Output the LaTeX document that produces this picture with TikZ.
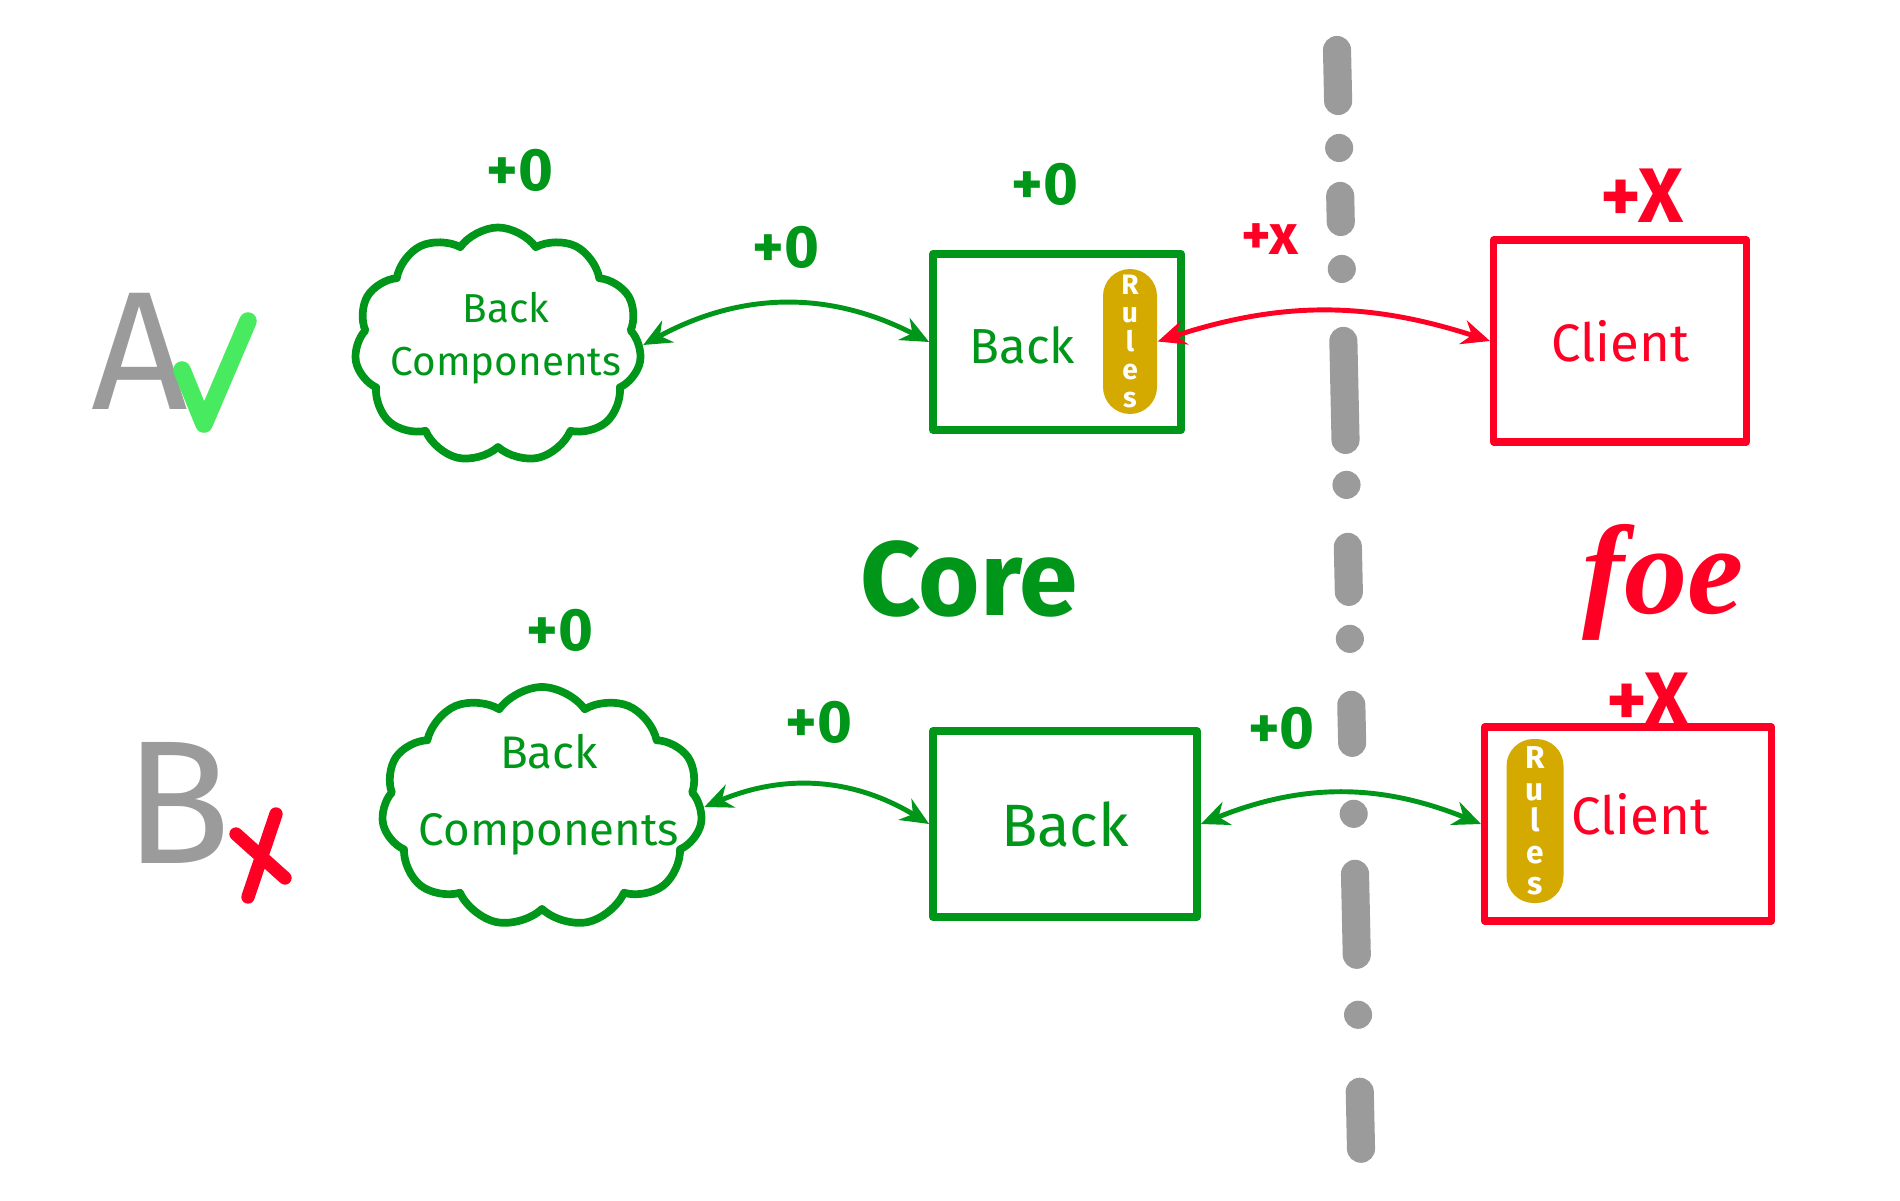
\documentclass[tikz,border=0pt]{standalone}
\usepackage{fontspec}
\setmainfont{Fira Sans}
\newfontfamily\foefont{Liberation Serif}
\usetikzlibrary{shapes.symbols,arrows.meta}

\definecolor{penGreen}{RGB}{0,150,25}
\definecolor{penLime}{RGB}{72,235,96}
\definecolor{penRed}{RGB}{255,0,36}
\definecolor{penGray}{RGB}{155,155,155}
\definecolor{penGold}{RGB}{212,169,0}

\begin{document}
\begin{tikzpicture}[
    greenline/.style={draw=penGreen, line width=2.2pt, line cap=round, line join=round},
    redline/.style={draw=penRed, line width=2pt, line cap=round, line join=round},
    backcloud/.style={cloud, cloud puffs=11, cloud puff arc=110, cloud ignores aspect, greenline, inner sep=0pt},
    cloudtext/.style={text=penGreen, align=center},
    greenbox/.style={rectangle, greenline, text=penGreen},
    redbox/.style={rectangle, redline, text=penRed},
    rulespill/.style={rectangle, rounded corners=2.7mm, fill=penGold, text=white, align=center, inner sep=0pt},
    score/.style={font=\fontsize{17}{17}\selectfont\bfseries, text=penGreen},
    redscore/.style={font=\fontsize{22}{22}\selectfont\bfseries, text=penRed},
    garrow/.style={{Stealth[length=8pt,width=7pt]}-{Stealth[length=8pt,width=7pt]}, draw=penGreen, line width=1.4pt},
    rarrow/.style={{Stealth[length=8pt,width=7pt]}-{Stealth[length=8pt,width=7pt]}, draw=penRed, line width=1.4pt}
  ]
    \useasboundingbox (0,0) rectangle (19,12);

    % 境界線
    \draw[penGray, line width=8pt, line cap=round,
      dash pattern=on 0.51cm off 0.47cm on 0pt off 0.48cm on 0.26cm off 0.47cm on 0pt off 0.72cm
                   on 0.99cm off 0.45cm on 0pt off 0.62cm on 0.45cm off 0.47cm on 0pt off 0.66cm
                   on 0.38cm off 0.71cm on 0pt off 0.60cm on 0.81cm off 0.60cm on 0pt off 0.77cm
                   on 0.57cm off 2cm]
      (13.37,11.50) -- (13.61,0.51);

    % 行ラベル
    \node[font=\fontsize{48}{48}\selectfont, text=penGray] (labelA) at (1.40,8.49) {A};
    \draw[penLime, line width=5pt, line cap=round, line join=round] (1.82,8.30) -- (2.04,7.76) -- (2.48,8.79);
    \node[font=\fontsize{50}{50}\selectfont, text=penGray] (labelB) at (1.78,3.97) {B};
    \draw[penRed, line width=3.8pt, line cap=round] (2.36,3.66) -- (2.85,3.22) (2.76,3.86) -- (2.48,3.03);

    % ノードの定義 (A)
    \node[backcloud, minimum width=2.87cm, minimum height=2.35cm] (cloudA) at (4.98,8.55) {};
    \node[cloudtext, font=\fontsize{11.5}{15}\selectfont] (cloudAtext) at (5.06,8.62) {Back\\Components};
    \node[greenbox, minimum width=2.48cm, minimum height=1.76cm] (backA) at (10.57,8.58) {};
    \node[rulespill, minimum width=0.54cm, minimum height=1.45cm, font=\fontsize{8}{8}\selectfont\bfseries] (rulesA) at (11.30,8.585) {R\\u\\l\\e\\s};
    \node[text=penGreen, font=\fontsize{14}{14}\selectfont] (backAtext) at (10.22,8.55) {Back};
    \node[redbox, minimum width=2.53cm, minimum height=2.02cm, font=\fontsize{15}{15}\selectfont] (clientA) at (16.20,8.59) {Client};

    % ノードの定義 (B)
    \node[backcloud, minimum width=3.21cm, minimum height=2.40cm] (cloudB) at (5.42,3.93) {};
    \node[cloudtext, font=\fontsize{13}{22}\selectfont] (cloudBtext) at (5.49,4.05) {Back\\Components};
    \node[greenbox, minimum width=2.64cm, minimum height=1.86cm, font=\fontsize{17}{17}\selectfont] (backB) at (10.65,3.76) {Back};
    \node[redbox, minimum width=2.87cm, minimum height=1.94cm] (clientB) at (16.28,3.76) {};
    \node[rulespill, minimum width=0.57cm, minimum height=1.64cm, font=\fontsize{9}{9}\selectfont\bfseries] (rulesB) at (15.35,3.79) {R\\u\\l\\e\\s};
    \node[text=penRed, font=\fontsize{15}{15}\selectfont] (clientBtext) at (16.40,3.86) {Client};

    % コスト
    \node[score] (costCloudA) at (5.20,10.30) {+0};
    \node[score] (costBackA) at (10.45,10.16) {+0};
    \node[redscore] (costClientA) at (16.42,10.04) {+X};
    \node[score] (costCloudB) at (5.60,5.70) {+0};
    \node[redscore] (costClientB) at (16.48,5.00) {+X};

    % 見出し
    \node[font=\fontsize{30}{30}\selectfont\bfseries, text=penGreen] (core) at (9.69,6.21) {Core};
    \node[font=\foefont\fontsize{36}{36}\selectfont\bfseries\itshape, text=penRed] (foe) at (16.63,6.18) {foe};

    % エッジの定義
    \draw[garrow] (cloudA.east) to[bend left=28] node[score, above=6pt] {+0} (backA.west);
    \draw[rarrow] (rulesA.east) to[bend left=18] node[pos=0.33, above=13pt, font=\fontsize{16}{16}\selectfont\bfseries, text=penRed] {+x} (clientA.west);
    \draw[garrow] (cloudB.east) to[bend left=27] node[score, above=8pt] {+0} (backB.west);
    \draw[garrow] (backB.east) to[bend left=22] node[pos=0.28, score, above=10pt] {+0} (clientB.west);
\end{tikzpicture}
\end{document}
